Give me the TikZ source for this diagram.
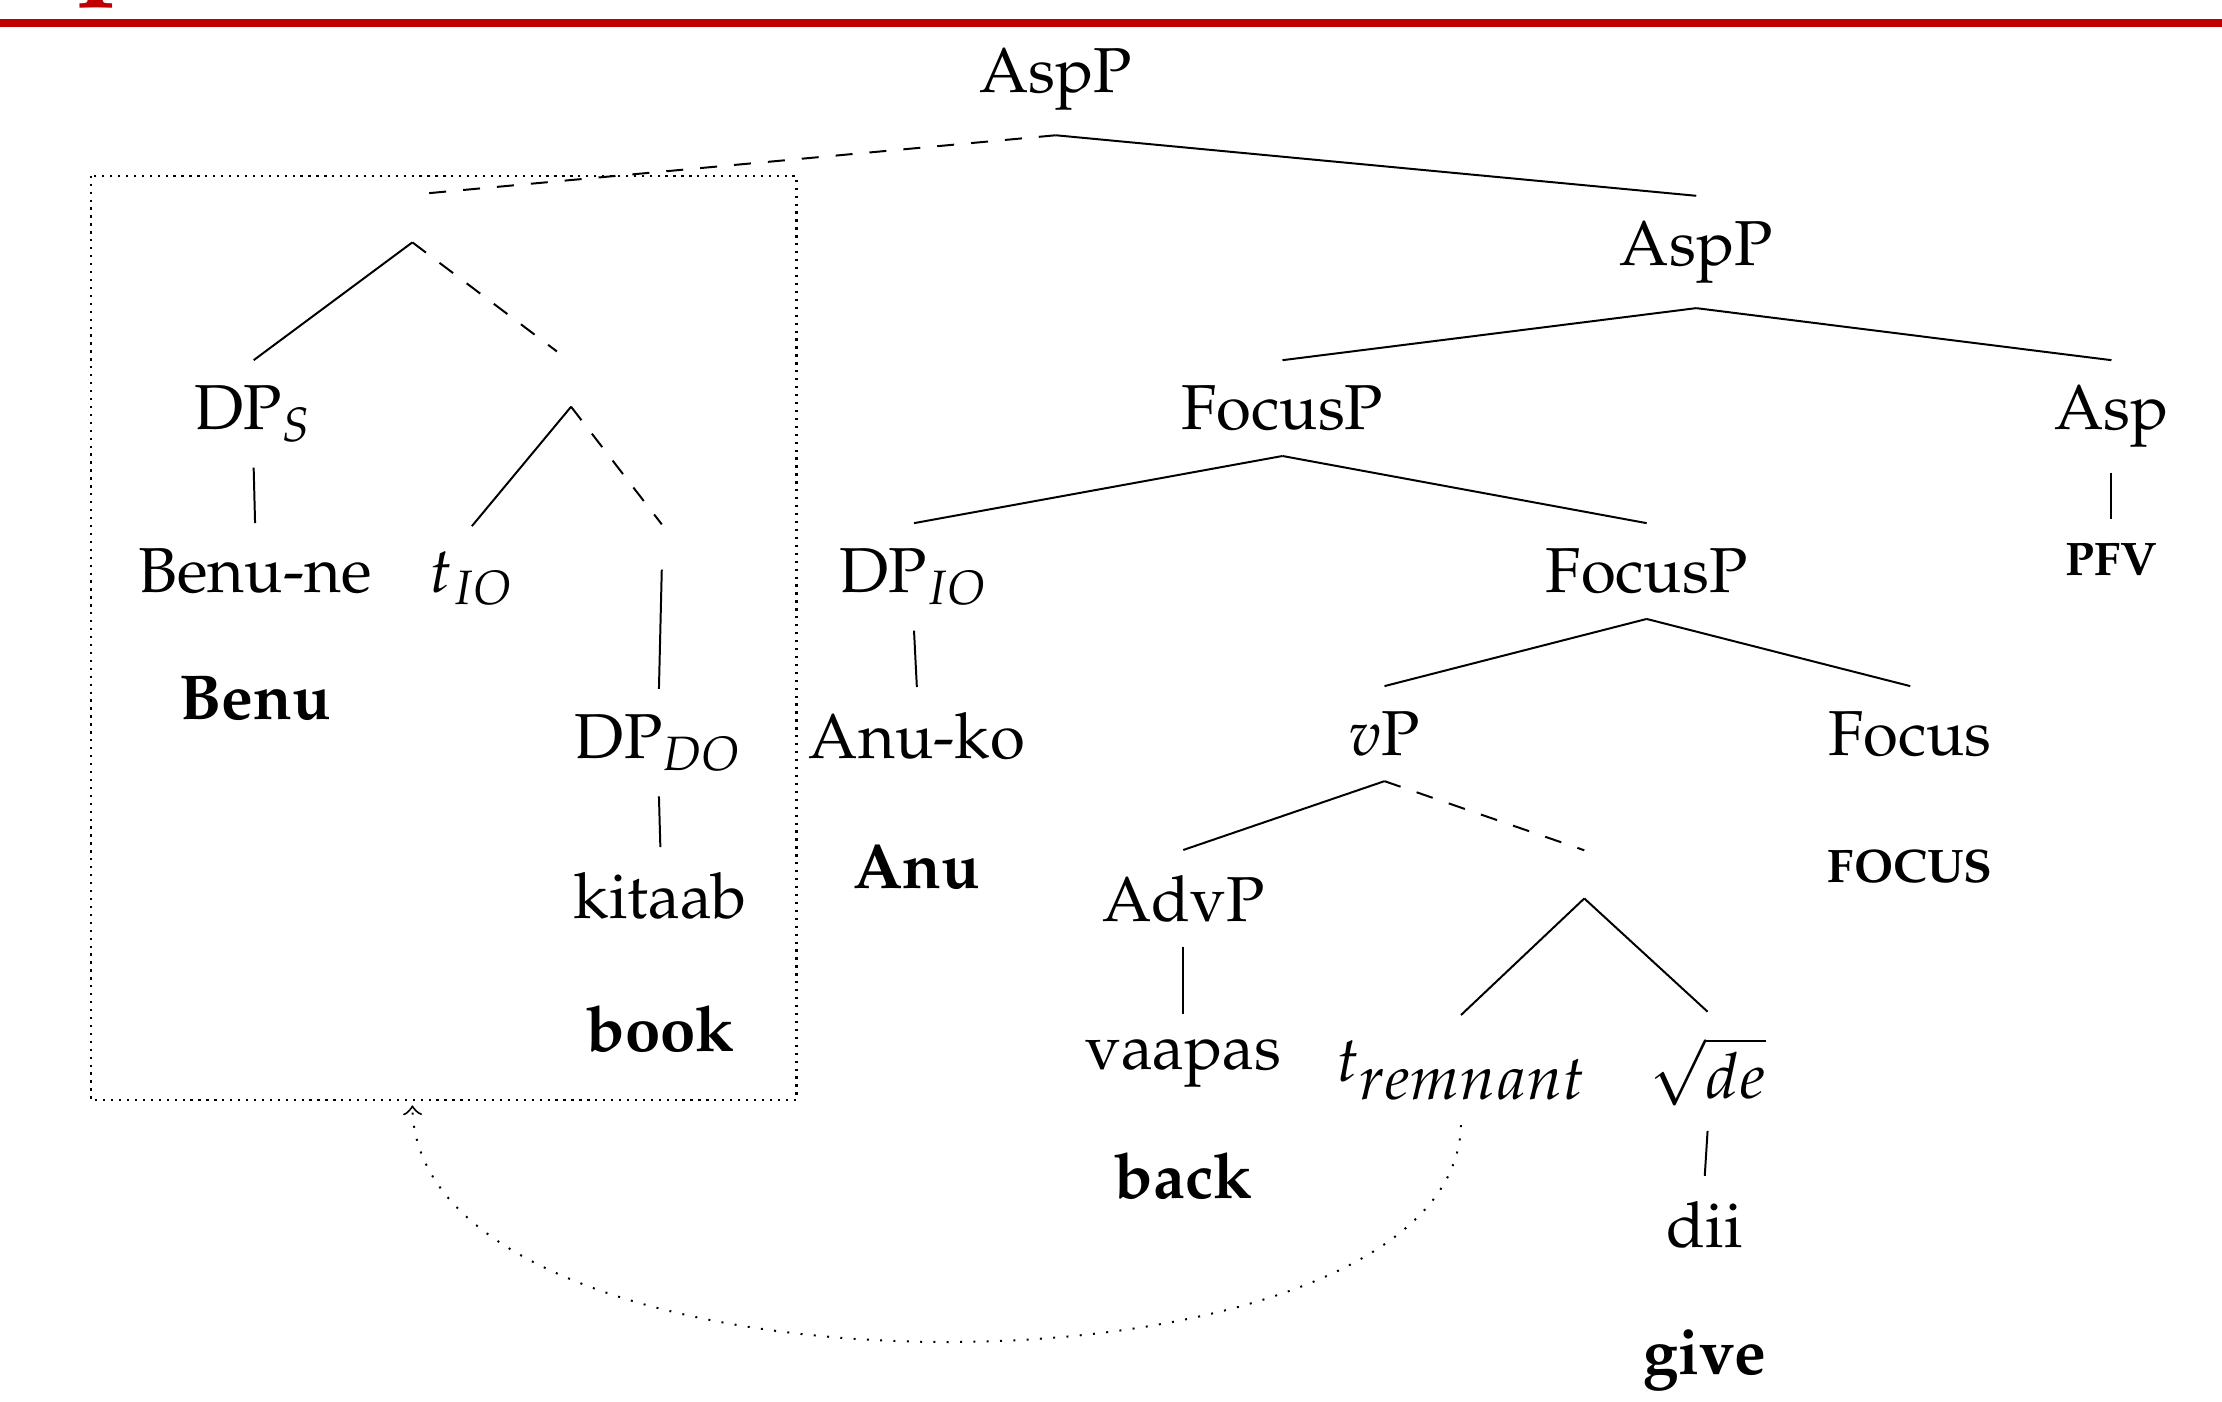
\documentclass[tikz,border=0pt]{standalone}
\usepackage[T1]{fontenc}
\usepackage{mathpazo}
\definecolor{titlered}{RGB}{192,0,0}
\tikzset{
  tn/.style={inner xsep=1pt, inner ysep=4.25pt, anchor=base, font=\fontsize{11.2}{13}\selectfont},
  gl/.style={inner sep=0pt, anchor=base, font=\fontsize{11.2}{13}\selectfont\bfseries},
  sc/.style={inner xsep=1pt, inner ysep=4.25pt, anchor=base, font=\fontsize{8.3}{9}\selectfont\bfseries},
  br/.style={line width=0.35pt},
  mv/.style={line width=0.35pt, dashed},
}
\begin{document}
\begin{tikzpicture}[x=0.25pt, y=-0.25pt]
\useasboundingbox (0,0) rectangle (1568,989);
% header
\fill[titlered] (0,13.6) rectangle (1568,18.8);
\node[text=titlered, inner sep=0pt, anchor=base west, font=\fontsize{21}{21}\selectfont\bfseries] (ttl) at (53,-16) {p};
% nodes
\node[tn] (aspA) at (745,65) {AspP};
\node[tn] (aspB) at (1197,187) {AspP};
\node[tn] (focA) at (905,303) {FocusP};
\node[tn] (asp) at (1490,303) {Asp};
\node[sc] (pfv) at (1490,406) {PFV};
\node[tn] (dpio) at (645,418) {DP$_{IO}$};
\node[tn] (focB) at (1162,418) {FocusP};
\node[tn] (anuko) at (647,535) {Anu-ko};
\node[gl] (anu) at (647,627) {Anu};
\node[tn] (vp) at (977,533) {$v$P};
\node[tn] (focus) at (1348,533) {Focus};
\node[sc] (focgl) at (1348,623) {FOCUS};
\node[tn] (advp) at (835,650) {AdvP};
\node[tn] (vaapas) at (835,755) {vaapas};
\node[gl] (back) at (835,846) {back};
\node[tn] (trem) at (1031,763) {$t$\raisebox{-3.2pt}{\fontsize{11}{12}\selectfont$remnant$}};
\node[tn] (sqde) at (1205,775) {$\sqrt{de}$};
\node[tn] (dii) at (1203,880) {dii};
\node[gl] (give) at (1203,970) {give};
\node[tn] (dps) at (179,303) {DP$_S$};
\node[tn] (benune) at (180,418) {Benu-ne};
\node[gl] (benu) at (180,508) {Benu};
\node[tn] (tio) at (333,418) {$t_{IO}$};
\node[tn] (dpdo) at (465,535) {DP$_{DO}$};
\node[tn] (kitaab) at (466,648) {kitaab};
\node[gl] (book) at (466,742) {book};
% empty nodes
\coordinate (e1t) at (295,137); \coordinate (e1b) at (291,171);
\coordinate (e2t) at (1118,600); \coordinate (e2b) at (1118,634);
\coordinate (e3t) at (393,248); \coordinate (e3b) at (403,287);
\coordinate (e4t) at (467,370); \coordinate (e4b) at (467,402);
% edges
\draw[mv] (aspA.south) -- (e1t);
\draw[br] (aspA.south) -- (aspB.north);
\draw[br] (e1b) -- (dps.north);
\draw[mv] (e1b) -- (e3t);
\draw[br] (e3b) -- (tio.north);
\draw[mv] (e3b) -- (e4t);
\draw[br] (e4b) -- (dpdo.north);
\draw[br] (dps.south) -- (benune.north);
\draw[br] (dpdo.south) -- (kitaab.north);
\draw[br] (aspB.south) -- (focA.north);
\draw[br] (aspB.south) -- (asp.north);
\draw[br] (asp.south) -- (pfv.north);
\draw[br] (focA.south) -- (dpio.north);
\draw[br] (focA.south) -- (focB.north);
\draw[br] (dpio.south) -- (anuko.north);
\draw[br] (focB.south) -- (vp.north);
\draw[br] (focB.south) -- (focus.north);
\draw[br] (vp.south) -- (advp.north);
\draw[mv] (vp.south) -- (e2t);
\draw[br] (advp.south) -- (vaapas.north);
\draw[br] (e2b) -- (trem.north);
\draw[br] (e2b) -- (sqde.north);
\draw[br] (sqde.south) -- (dii.north);
% box and movement arrow
\draw[line width=0.4pt, densely dotted] (64,124) rectangle (562,776);
\coordinate (boxin) at (291,780);
\draw[line width=0.35pt, dotted, ->] (trem.south) .. controls (1025,1000) and (295,1000) .. (boxin);
\end{tikzpicture}
\end{document}
